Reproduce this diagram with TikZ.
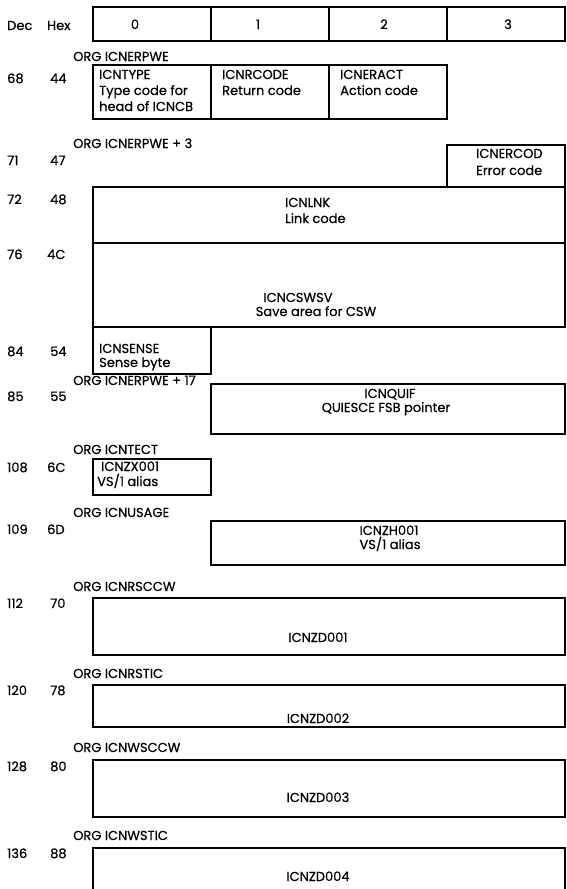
\documentclass[tikz,border=0pt]{standalone}
\usepackage{fontspec}
\setmainfont{Poppins}[BoldFont=Poppins, BoldFeatures={FakeBold=0.6}]
\begin{document}
\begin{tikzpicture}[x=1pt,y=-1pt,
  txt/.style={inner sep=0pt, font=\fontsize{13}{15}\selectfont\bfseries},
  lbl/.style={txt, anchor=base west},
  ctr/.style={txt, anchor=base},
  fld/.style={line width=1.6pt, line join=miter}]
\useasboundingbox (0,0) rectangle (566,889);

% header
\draw[fld] (93,7) rectangle (565,41);
\draw[fld] (211,7) -- (211,41) (329,7) -- (329,41) (447,7) -- (447,41);
\node[lbl] (dec) at (7,30) {Dec};
\node[lbl] (hex) at (47,30) {Hex};
\node[ctr] (c0) at (135,29) {0};
\node[ctr] (c1) at (258,29) {1};
\node[ctr] (c2) at (384,29) {2};
\node[ctr] (c3) at (508,29) {3};

% 68 / 44
\node[lbl] (org1) at (73,61) {ORG ICNERPWE};
\node[lbl] (d68) at (7,83) {68};
\node[lbl] (h44) at (50,83) {44};
\draw[fld] (93,65) rectangle (447,119);
\draw[fld] (211,65) -- (211,119) (329,65) -- (329,119);
\node[lbl] (icntype) at (99,79) {ICNTYPE};
\node[lbl] (icntype2) at (99,95) {Type code for};
\node[lbl] (icntype3) at (99,111) {head of ICNCB};
\node[lbl] (icnrcode) at (222,79) {ICNRCODE};
\node[lbl] (icnrcode2) at (222,95) {Return code};
\node[lbl] (icneract) at (340,79) {ICNERACT};
\node[lbl] (icneract2) at (340,95) {Action code};

% 71 / 47
\node[lbl] (org2) at (73,148) {ORG ICNERPWE + 3};
\node[lbl] (d71) at (7,165) {71};
\node[lbl] (h47) at (50,165) {47};
\draw[fld] (447,187) -- (447,145) -- (565,145) -- (565,187);
\node[lbl] (icnercod) at (476,158) {ICNERCOD};
\node[lbl] (icnercod2) at (476,175) {Error code};

% 72 / 48
\draw[fld] (93,187) rectangle (565,243);
\node[lbl] (d72) at (7,204) {72};
\node[lbl] (h48) at (50,204) {48};
\node[lbl] (icnlnk) at (285,207) {ICNLNK};
\node[lbl] (icnlnk2) at (285,223) {Link code};

% 76 / 4C
\draw[fld] (93,243) rectangle (565,327);
\node[lbl] (d76) at (7,259) {76};
\node[lbl] (h4c) at (47,259) {4C};
\node[ctr] (icncswsv) at (298,302) {ICNCSWSV};
\node[ctr] (icncswsv2) at (316,316) {Save area for CSW};

% 84 / 54
\draw[fld] (93,327) rectangle (211,374);
\node[lbl] (d84) at (7,356) {84};
\node[lbl] (h54) at (50,356) {54};
\node[lbl] (icnsense) at (99,353) {ICNSENSE};
\node[lbl] (icnsense2) at (99,367) {Sense byte};

% 85 / 55
\node[lbl] (org3) at (73,385) {ORG ICNERPWE + 17};
\draw[fld] (211,384) rectangle (565,434);
\node[lbl] (d85) at (7,401) {85};
\node[lbl] (h55) at (50,401) {55};
\node[ctr] (icnquif) at (390,398) {ICNQUIF};
\node[ctr] (icnquif2) at (386,412) {QUIESCE FSB pointer};

% 108 / 6C
\node[lbl] (org4) at (73,454) {ORG ICNTECT};
\draw[fld] (93,459) rectangle (211,495);
\node[lbl] (d108) at (7,472) {108};
\node[lbl] (h6c) at (47,472) {6C};
\node[lbl] (icnzx) at (101,471) {ICNZX001};
\node[lbl] (icnzx2) at (97,486) {VS/1 alias};

% 109 / 6D
\node[lbl] (org5) at (73,517) {ORG ICNUSAGE};
\draw[fld] (211,521) rectangle (565,565);
\node[lbl] (d109) at (7,534) {109};
\node[lbl] (h6d) at (47,534) {6D};
\node[ctr] (icnzh) at (389,535) {ICNZH001};
\node[ctr] (icnzh2) at (390,549) {VS/1 alias};

% 112 / 70
\node[lbl] (org6) at (73,591) {ORG ICNRSCCW};
\draw[fld] (93,598) rectangle (565,655);
\node[lbl] (d112) at (7,608) {112};
\node[lbl] (h70) at (50,608) {70};
\node[ctr] (zd1) at (318,642) {ICNZD001};

% 120 / 78
\node[lbl] (org7) at (73,678) {ORG ICNRSTIC};
\draw[fld] (93,685) rectangle (565,727);
\node[lbl] (d120) at (7,695) {120};
\node[lbl] (h78) at (50,695) {78};
\node[ctr] (zd2) at (318,723) {ICNZD002};

% 128 / 80
\node[lbl] (org8) at (73,752) {ORG ICNWSCCW};
\draw[fld] (93,760) rectangle (565,817);
\node[lbl] (d128) at (7,771) {128};
\node[lbl] (h80) at (50,771) {80};
\node[ctr] (zd3) at (318,802) {ICNZD003};

% 136 / 88
\node[lbl] (org9) at (73,840) {ORG ICNWSTIC};
\draw[fld] (93,889) -- (93,848) -- (565,848) -- (565,889);
\node[lbl] (d136) at (7,858) {136};
\node[lbl] (h88) at (50,858) {88};
\node[ctr] (zd4) at (318,881) {ICNZD004};
\end{tikzpicture}
\end{document}
